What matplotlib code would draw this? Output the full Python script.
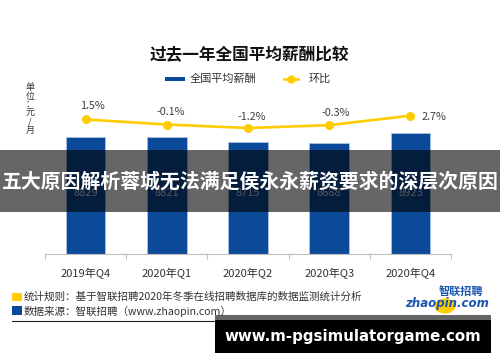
import matplotlib

matplotlib.use("Agg")

import matplotlib.pyplot as plt
from matplotlib.lines import Line2D
from matplotlib.patches import Circle, Rectangle

plt.rcParams["font.family"] = ["Noto Sans CJK SC", "DejaVu Sans"]

# data
quarters = ["2019年Q4", "2020年Q1", "2020年Q2", "2020年Q3", "2020年Q4"]
salary = [8829, 8821, 8715, 8688, 8923]
mom = [1.5, -0.1, -1.2, -0.3, 2.7]
mom_labels = ["1.5%", "-0.1%", "-1.2%", "-0.3%", "2.7%"]

BLUE = "#0B4A99"
GOLD = "#FFCC00"
W, H = 500, 362


def px(x, y):
    """pixel position (top-left origin) -> figure fraction"""
    return x / W, 1 - y / H


def box(x0, y_bottom, w, h, **kw):
    fig.patches.append(Rectangle(px(x0, y_bottom), w / W, h / H, transform=fig.transFigure,
                                 linewidth=0, figure=fig, **kw))


fig = plt.figure(figsize=(W / 100, H / 100), dpi=100, facecolor="white")

ax = fig.add_axes([45 / W, 1 - 253.5 / H, 406 / W, 153.5 / H])
x = range(len(quarters))
ax.bar(x, salary, width=0.49, color=BLUE, edgecolor="#a9c1e0", linewidth=0.6, zorder=2)
ax.set_xlim(-0.5, 4.5)
ax.set_ylim(6084, 9691)
for xi, v in zip(x, salary):
    ax.text(xi, 0.394, str(v), transform=ax.get_xaxis_transform(), ha="center", va="center",
            fontsize=8, color="#d6d6d6", zorder=3)

ax.set_xticks(list(x))
ax.set_xticklabels(quarters, fontsize=8, color="#333333")
ax.tick_params(axis="x", which="major", length=0, pad=10)
ax.set_xticks([i - 0.5 for i in range(len(quarters) + 1)], minor=True)
ax.tick_params(axis="x", which="minor", length=3.5, color="#bfbfbf", width=0.8)
ax.set_yticks([])
for side in ["top", "left", "right"]:
    ax.spines[side].set_visible(False)
ax.spines["bottom"].set_color("#bfbfbf")
ax.spines["bottom"].set_linewidth(0.8)

ax2 = ax.twinx()
ax2.plot(x, mom, color=GOLD, lw=1.9, marker="o", markersize=5.5, zorder=4)
ax2.set_ylim(-40.9, 7.66)
ax2.set_axis_off()
offsets = [(7, 13), (4, 12.5), (4, 11), (7, 12.5), (24, -1.5)]
for xi, v, lab, off in zip(x, mom, mom_labels, offsets):
    ax2.annotate(lab, (xi, v), xytext=off, textcoords="offset pixels", ha="center", va="center",
                 fontsize=7.8, color="#404040")

# title, legend, unit
fig.text(*px(249, 55), "过去一年全国平均薪酬比较", ha="center", va="center", fontsize=12,
         fontweight="bold", color="#111111")
box(165, 81, 20, 4, color=BLUE)
fig.text(*px(190, 79), "全国平均薪酬", ha="left", va="center", fontsize=8, color="#333333")
fig.lines.append(Line2D([284 / W, 298 / W], [1 - 79 / H] * 2, transform=fig.transFigure,
                        color=GOLD, lw=1.9, figure=fig))
fig.lines.append(Line2D([291 / W], [1 - 79 / H], transform=fig.transFigure, color=GOLD,
                        marker="o", markersize=5, figure=fig))
fig.text(*px(309, 79), "环比", ha="left", va="center", fontsize=8, color="#333333")
fig.text(*px(30, 109), "单\n位\n：\n元\n/\n月", ha="center", va="center", fontsize=6.5,
         color="#333333", linespacing=0.95)

# footer
box(12, 301, 10, 8.5, color=GOLD)
box(12, 315, 10, 9, color=BLUE)
fig.text(*px(24, 297), "统计规则：基于智联招聘2020年冬季在线招聘数据库的数据监测统计分析",
         ha="left", va="center", fontsize=7.6, color="#333333")
fig.text(*px(24, 311), "数据来源：智联招聘（www.zhaopin.com）", ha="left", va="center",
         fontsize=7.6, color="#333333")
fig.lines.append(Line2D([12 / W, 230 / W], [1 - 320.5 / H] * 2, transform=fig.transFigure,
                        color="#222222", lw=0.8, figure=fig))

# logo
fig.patches.append(Circle(px(445, 306), 10.5 / W, transform=fig.transFigure, color=GOLD,
                          linewidth=0, figure=fig))
fig.text(*px(461, 292), "智联招聘", ha="center", va="center", fontsize=8, color="#1A56B0",
         style="italic", fontweight="bold")
fig.text(*px(447, 303), "zhaopin.com", ha="center", va="center", fontsize=8.5,
         color="#1A56B0", style="italic", fontweight="bold", family="DejaVu Sans")

# banner overlay
box(0, 212, W, 62, color="black", alpha=0.6, zorder=10)
fig.text(*px(250, 181), "五大原因解析蓉城无法满足侯永永薪资要求的深层次原因", ha="center",
         va="center", fontsize=14.3, fontweight="bold", color="white", zorder=11)

# watermark box
box(215, 320, 276, 5, color="black", alpha=0.6, zorder=10)
box(215, 352.7, 276, 32.7, color="black", zorder=10)
fig.text(*px(352.5, 336.5), "www.m-pgsimulatorgame.com", ha="center", va="center",
         fontsize=10.8, fontweight="bold", color="white", family="DejaVu Sans", zorder=11)

fig.savefig("out.png", dpi=100, facecolor="white")
